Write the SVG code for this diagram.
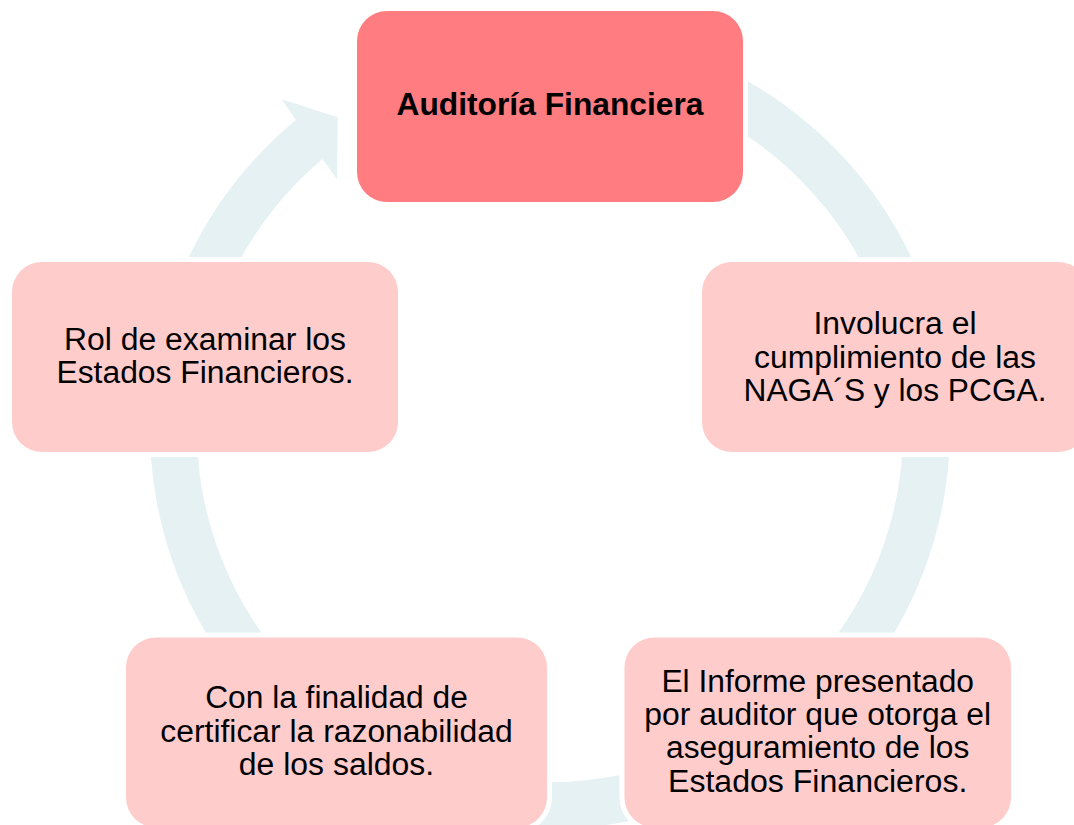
<svg xmlns="http://www.w3.org/2000/svg" width="1074" height="825" viewBox="0 0 1074 825">
<style>
.node{stroke:#FFFFFF;stroke-width:10;paint-order:stroke}
.main{fill:#FF7C80}
.sub{fill:#FFCCCC}
.t{font-family:"Liberation Sans",Arial,sans-serif;font-size:31px;fill:#000000;text-anchor:middle}
.b{font-weight:bold}
.ring{fill:#E5F1F3}
</style>
<rect width="1074" height="825" fill="#FFFFFF"/>
<g id="connectors">
<path class="ring" d="M 748 81.4 A 400 400 0 1 1 295.8 120.1 L 281.7 99.3 L 337.7 117.3 L 337 179.3 L 322.4 158.9 A 353.2 353.2 0 1 0 748 136.5 Z"/>
</g>
<g id="node-auditoria">
<rect class="node main" x="357" y="11" width="386" height="191" rx="30"/>
<text class="t b" x="550" y="115" textLength="307" lengthAdjust="spacingAndGlyphs">Auditoría Financiera</text>
</g>
<g id="node-involucra">
<rect class="node sub" x="702" y="262" width="386" height="190" rx="30"/>
<text class="t" x="895" y="334.3" textLength="163" lengthAdjust="spacingAndGlyphs">Involucra el</text>
<text class="t" x="895" y="367.6" textLength="282" lengthAdjust="spacingAndGlyphs">cumplimiento de las</text>
<text class="t" x="895" y="400.9" textLength="303" lengthAdjust="spacingAndGlyphs">NAGA´S y los PCGA.</text>
</g>
<g id="node-informe">
<rect class="node sub" x="624.5" y="637.5" width="386.5" height="190" rx="30"/>
<text class="t" x="817.7" y="691.7" textLength="312.6" lengthAdjust="spacingAndGlyphs">El Informe presentado</text>
<text class="t" x="817.7" y="725" textLength="346.7" lengthAdjust="spacingAndGlyphs">por auditor que otorga el</text>
<text class="t" x="817.7" y="758.3" textLength="303.3" lengthAdjust="spacingAndGlyphs">aseguramiento de los</text>
<text class="t" x="817.7" y="791.6" textLength="299.4" lengthAdjust="spacingAndGlyphs">Estados Financieros.</text>
</g>
<g id="node-finalidad">
<rect class="node sub" x="126" y="637.5" width="421" height="190" rx="30"/>
<text class="t" x="336.5" y="708.3" textLength="262.7" lengthAdjust="spacingAndGlyphs">Con la finalidad de</text>
<text class="t" x="336.5" y="741.6" textLength="352.3" lengthAdjust="spacingAndGlyphs">certificar la razonabilidad</text>
<text class="t" x="336.5" y="774.9" textLength="195.3" lengthAdjust="spacingAndGlyphs">de los saldos.</text>
</g>
<g id="node-rol">
<rect class="node sub" x="12" y="262" width="386" height="190" rx="30"/>
<text class="t" x="205" y="350" textLength="282" lengthAdjust="spacingAndGlyphs">Rol de examinar los</text>
<text class="t" x="205" y="383.3" textLength="297" lengthAdjust="spacingAndGlyphs">Estados Financieros.</text>
</g>
</svg>
